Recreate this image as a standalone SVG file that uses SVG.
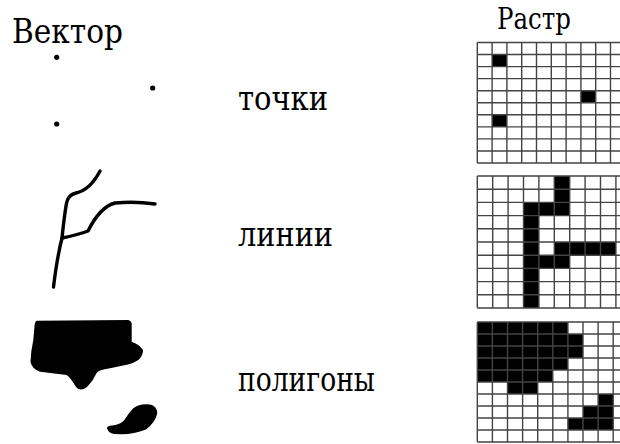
<svg xmlns="http://www.w3.org/2000/svg" width="620" height="444" viewBox="0 0 620 444">
<style>
text{font-family:"DejaVu Serif",serif;fill:#000}
.gl{stroke:#444;stroke-width:1.4;fill:none}
.cell{fill:#000}
.ln{fill:none;stroke:#000;stroke-width:3.4;stroke-linecap:round;stroke-linejoin:round}
</style>
<rect width="620" height="444" fill="#fff"/>
<g id="titles">
<text x="12" y="43" font-size="34" textLength="111" lengthAdjust="spacingAndGlyphs">Вектор</text>
<text x="497" y="29" font-size="29" textLength="74" lengthAdjust="spacingAndGlyphs">Растр</text>
</g>
<g id="labels">
<text x="238" y="110" font-size="33" textLength="90" lengthAdjust="spacingAndGlyphs">точки</text>
<text x="238" y="246" font-size="33" textLength="95" lengthAdjust="spacingAndGlyphs">линии</text>
<text x="238" y="391" font-size="33" textLength="137" lengthAdjust="spacingAndGlyphs">полигоны</text>
</g>
<g id="vector-points">
<circle cx="56.7" cy="57.3" r="2.6"/>
<circle cx="152.7" cy="88" r="2.6"/>
<circle cx="56.7" cy="124" r="2.6"/>
</g>
<g id="vector-lines">
<path class="ln" d="M53.5 287 Q57 258 62 238 Q64 218 66.5 203 Q68 195 76 193 Q90 190 100 171"/>
<path class="ln" d="M62 238 Q77 235 88 231 Q100 207 115 203 Q135 201 155 204"/>
</g>
<g id="vector-polygons">
<path d="M36.7 320.7 L128.3 320 Q131.7 321 131.7 324 L131.7 341.7 Q139 344 143 350 Q143 356 138.3 360 Q134 363 128 364.5 L110 368.3 Q98 370 96.7 373 Q93 381 87 387 Q80 392 76 387 Q70 377 66.7 375 L40 371.7 Q32 369 30.5 362 Q31 350 33.3 340 L34.5 326 Q35 321 36.7 320.7 Z"/>
<path d="M107 428 Q108 433 114 434 L122 434.3 Q134 434 146 429.5 Q155 423 157.3 413.3 Q157 406 150 404.5 Q140 403 133.3 408.3 Q128 414 124 420.5 Q119 425 112 425.5 Q107 426 107 428 Z"/>
</g>
<g id="raster-points" transform="translate(477.3,42.5) scale(14.8,12.05)">
<rect class="cell" x="1" y="1" width="1" height="1"/>
<rect class="cell" x="7" y="4" width="1" height="1"/>
<rect class="cell" x="1" y="6" width="1" height="1"/>
<path class="gl" vector-effect="non-scaling-stroke" d="M0 0V10M1 0V10M2 0V10M3 0V10M4 0V10M5 0V10M6 0V10M7 0V10M8 0V10M9 0V10M0 0H10M0 1H10M0 2H10M0 3H10M0 4H10M0 5H10M0 6H10M0 7H10M0 8H10M0 9H10M0 10H10"/>
</g>
<g id="raster-lines" transform="translate(477.3,176) scale(15.4,13.2)">
<rect class="cell" x="5" y="0" width="1" height="3"/>
<rect class="cell" x="3" y="2" width="3" height="1"/>
<rect class="cell" x="3" y="2" width="1" height="8"/>
<rect class="cell" x="5" y="5" width="4" height="1"/>
<rect class="cell" x="3" y="6" width="3" height="1"/>
<path class="gl" vector-effect="non-scaling-stroke" d="M0 0V10M1 0V10M2 0V10M3 0V10M4 0V10M5 0V10M6 0V10M7 0V10M8 0V10M9 0V10M0 0H10M0 1H10M0 2H10M0 3H10M0 4H10M0 5H10M0 6H10M0 7H10M0 8H10M0 9H10M0 10H10"/>
</g>
<g id="raster-polygons" transform="translate(477.3,322) scale(15.1,12)">
<rect class="cell" x="0" y="0" width="6" height="1"/>
<rect class="cell" x="0" y="1" width="7" height="2"/>
<rect class="cell" x="0" y="3" width="6" height="1"/>
<rect class="cell" x="0" y="4" width="5" height="1"/>
<rect class="cell" x="2" y="5" width="2" height="1"/>
<rect class="cell" x="8" y="6" width="1" height="1"/>
<rect class="cell" x="7" y="7" width="2" height="1"/>
<rect class="cell" x="6" y="8" width="3" height="1"/>
<path class="gl" vector-effect="non-scaling-stroke" d="M0 0V10M1 0V10M2 0V10M3 0V10M4 0V10M5 0V10M6 0V10M7 0V10M8 0V10M9 0V10M0 0H10M0 1H10M0 2H10M0 3H10M0 4H10M0 5H10M0 6H10M0 7H10M0 8H10M0 9H10M0 10H10"/>
</g>
</svg>
